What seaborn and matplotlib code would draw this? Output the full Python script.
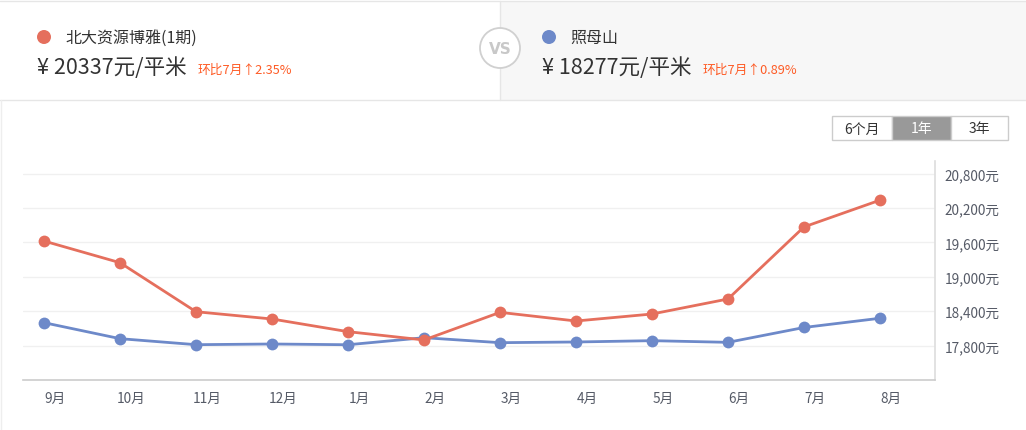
import matplotlib
matplotlib.use("Agg")
import matplotlib.pyplot as plt
import matplotlib.transforms as mtransforms
from matplotlib.patches import Rectangle, Circle
import seaborn as sns
import pandas as pd

# data
months = ["9月", "10月", "11月", "12月", "1月", "2月", "3月", "4月", "5月", "6月", "7月", "8月"]
beida = [19624, 19246, 18391, 18264, 18043, 17898, 18380, 18229, 18351, 18613, 19870, 20337]
zhaomu = [18200, 17921, 17816, 17828, 17815, 17938, 17851, 17863, 17886, 17857, 18116, 18277]
names = ["北大资源博雅(1期)", "照母山"]
prices = ["¥ 20337元/平米", "¥ 18277元/平米"]
changes = ["环比7月↑2.35%", "环比7月↑0.89%"]
yticks = [17800, 18400, 19000, 19600, 20200, 20800]
periods = ["6个月", "1年", "3年"]

RED = "#e56f5d"
BLUE = "#6d89c9"
FONTS = ["Noto Sans CJK SC", "DejaVu Sans"]

sns.set_style("white")
plt.rcParams["font.family"] = FONTS

df = pd.DataFrame({
    "idx": list(range(len(months))) * 2,
    "price": beida + zhaomu,
    "name": [names[0]] * len(months) + [names[1]] * len(months),
})

W, H = 1026, 431
fig = plt.figure(figsize=(W / 100, H / 100), dpi=100)

# background / header drawn in pixel coordinates
bg = fig.add_axes([0, 0, 1, 1])
bg.set_xlim(0, W)
bg.set_ylim(H, 0)
bg.axis("off")
bg.add_patch(Rectangle((500, 2), W - 500, 99, facecolor="#f7f7f7", edgecolor="none"))
bg.plot([0, W], [2, 2], color="#e6e6e6", lw=1)
bg.plot([0, W], [101, 101], color="#e6e6e6", lw=1)
bg.plot([500, 500], [2, 101], color="#e6e6e6", lw=1)
bg.plot([1, 1], [101, H], color="#eeeeee", lw=1)
bg.add_patch(Circle((500, 49), 20, facecolor="white", edgecolor="#d0d0d0", lw=1.3, zorder=3))
bg.text(500, 49, "VS", ha="center", va="center", color="#c8c8c8", fontsize=11,
        fontweight="bold", family="DejaVu Sans", zorder=4)

for i, x0 in enumerate([44, 549]):
    color = RED if i == 0 else BLUE
    bg.add_patch(Circle((x0, 38), 7, facecolor=color, edgecolor="none"))
    bg.text(x0 + 21, 38, names[i], ha="left", va="center", fontsize=11.5, color="#333333")
    bg.text(x0 - 7, 68, prices[i], ha="left", va="center", fontsize=15.5, color="#333333")
    bg.text([198, 703][i], 70, changes[i], ha="left", va="center", fontsize=9.2, color="#fe5b25")

# period buttons
bx = [832, 892, 951, 1008]
for i, lab in enumerate(periods):
    fc = "#999999" if i == 1 else "white"
    tc = "white" if i == 1 else "#333333"
    bg.add_patch(Rectangle((bx[i], 117), bx[i + 1] - bx[i], 24, facecolor=fc,
                           edgecolor="#cccccc", lw=1))
    bg.text((bx[i] + bx[i + 1]) / 2, 129.5, lab, ha="center", va="center", fontsize=10, color=tc)

# main chart
left, right, top, bottom = 23, 935, 162, 381
ax = fig.add_axes([left / W, (H - bottom) / H, (right - left) / W, (bottom - top) / H])
ax.patch.set_alpha(0)
sns.lineplot(data=df, x="idx", y="price", hue="name", hue_order=[names[1], names[0]],
             palette={names[0]: RED, names[1]: BLUE}, ax=ax,
             marker="o", markersize=8.5, markeredgewidth=0, linewidth=2, sort=False, legend=False)
step = 76
ax.set_xlim(-21 / step, 11 + 55 / step)
ax.set_ylim(17200, 17200 + (bottom - top) * 600 / 34.4)
ax.set_xlabel("")
ax.set_ylabel("")

ax.set_yticks(yticks)
ax.set_yticklabels([f"{v:,}元" for v in yticks])
ax.yaxis.tick_right()
ax.set_xticks(range(len(months)))
ax.set_xticklabels(months)
ax.tick_params(axis="both", length=0, labelsize=9.8, labelcolor="#555a66")
ax.tick_params(axis="y", pad=7)
ax.tick_params(axis="x", pad=8)
offset = mtransforms.ScaledTranslation(11 / 100, 0, fig.dpi_scale_trans)
for lab in ax.get_xticklabels():
    lab.set_transform(lab.get_transform() + offset)

ax.yaxis.grid(True, color="#f0f0f0", lw=1)
ax.xaxis.grid(False)
for s in ["top", "left"]:
    ax.spines[s].set_visible(False)
ax.spines["bottom"].set_color("#cccccc")
ax.spines["right"].set_color("#dddddd")
ax.spines["bottom"].set_linewidth(1.2)
ax.spines["right"].set_linewidth(1.2)

fig.savefig("out.png", dpi=100)
